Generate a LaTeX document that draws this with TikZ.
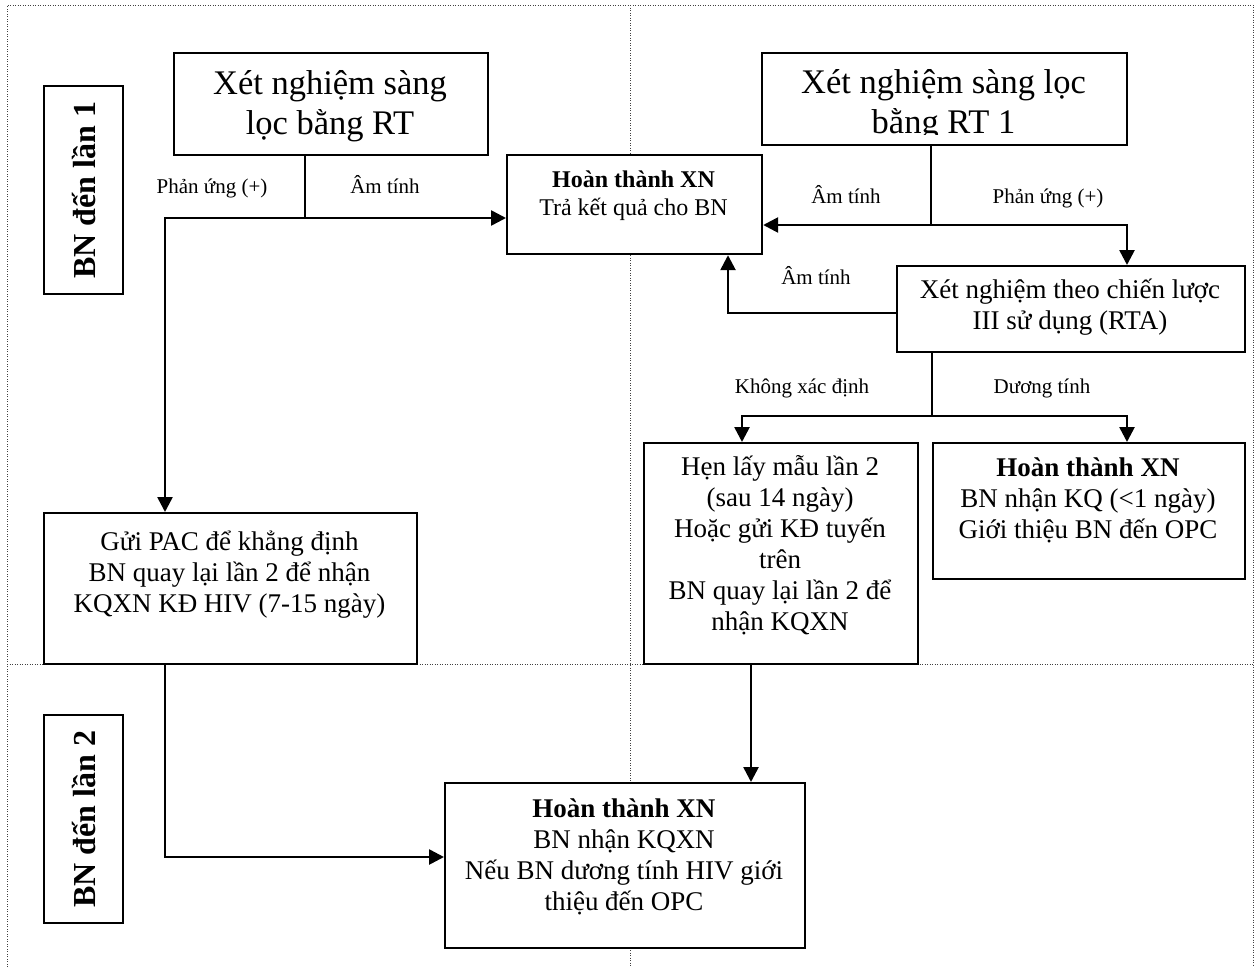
\documentclass[tikz,border=0pt]{standalone}
\usepackage{fontspec}
\setmainfont{Liberation Serif}
\usetikzlibrary{arrows.meta}
\newcommand\firstline{\rule{0pt}{1.05em}}
\begin{document}
\begin{tikzpicture}[x=1pt,y=-1pt,
  box/.style={draw, line width=2.2pt, fill=white, inner sep=0pt, anchor=north west},
  txt/.style={inner sep=0pt, align=center, anchor=north},
  title/.style={txt, font=\fontsize{34.5pt}{40pt}\selectfont},
  body/.style={txt, font=\fontsize{27pt}{31pt}\selectfont},
  smallbody/.style={txt, font=\fontsize{24pt}{28pt}\selectfont},
  lbl/.style={inner sep=0pt, anchor=base, font=\fontsize{21pt}{24pt}\selectfont},
  side/.style={inner sep=0pt, rotate=90, font=\fontsize{32pt}{36pt}\selectfont\bfseries},
  grid/.style={draw=black!75, line width=1pt, dash pattern=on 1pt off 1.5pt},
  link/.style={line width=1.7pt, line join=miter},
  arr/.style={line width=2.6pt, line join=miter, -{Triangle[length=15pt,width=15pt]}}]
\useasboundingbox (0,0) rectangle (1257,967);

% dotted frame and lane separators
\draw[grid] (7,967) -- (7,5) -- (1253,5) -- (1253,967);
\draw[grid] (630,5) -- (630,967);
\draw[grid] (7,664) -- (1253,664);

% boxes
\node[box, minimum width=79pt, minimum height=208pt] (side1) at (43,85) {};
\node[box, minimum width=79pt, minimum height=208pt] (side2) at (43,714) {};
\node[box, minimum width=314pt, minimum height=102pt] (tl) at (173,52) {};
\node[box, minimum width=365pt, minimum height=92pt] (tr) at (761,52) {};
\node[box, minimum width=255pt, minimum height=99pt] (done1) at (506,154) {};
\node[box, minimum width=348pt, minimum height=86pt] (rta) at (896,265) {};
\node[box, minimum width=274pt, minimum height=221pt] (hen) at (643,442) {};
\node[box, minimum width=312pt, minimum height=136pt] (done2) at (932,442) {};
\node[box, minimum width=373pt, minimum height=151pt] (pac) at (43,512) {};
\node[box, minimum width=360pt, minimum height=165pt] (final) at (444,782) {};

% lane titles
\node[side] (side1t) at (side1.center) {BN đến lần 1};
\node[side] (side2t) at (side2.center) {BN đến lần 2};

% box texts
\node[title] (tlt) at (330,{94-36.2}) {\firstline Xét nghiệm sàng\\lọc bằng RT};
\begin{scope}
  \clip (761,52) rectangle (1126,134);
  \node[title] (trt) at (943.5,{93-36.2}) {\firstline Xét nghiệm sàng lọc\\bằng RT 1};
\end{scope}
\node[smallbody] (done1t) at (633.5,{187-25.2}) {\firstline\textbf{Hoàn thành XN}\\Trả kết quả cho BN};
\node[body] (rtat) at (1070,{298-28.35}) {\firstline Xét nghiệm theo chiến lược\\III sử dụng (RTA)};
\node[body] (hent) at (780,{475-28.35}) {\firstline Hẹn lấy mẫu lần 2\\(sau 14 ngày)\\Hoặc gửi KĐ tuyến\\trên\\BN quay lại lần 2 để\\nhận KQXN};
\node[body] (done2t) at (1088,{476-28.35}) {\firstline\textbf{Hoàn thành XN}\\BN nhận KQ (<1 ngày)\\Giới thiệu BN đến OPC};
\node[body] (pact) at (229.5,{550-28.35}) {\firstline Gửi PAC để khẳng định\\BN quay lại lần 2 để nhận\\KQXN KĐ HIV (7-15 ngày)};
\node[body] (finalt) at (624,{817-28.35}) {\firstline\textbf{Hoàn thành XN}\\BN nhận KQXN\\Nếu BN dương tính HIV giới\\thiệu đến OPC};

% branch points
\coordinate (j1) at (305,218);
\coordinate (k1) at (165,218);
\coordinate (j2) at (931,225);
\coordinate (k2) at (1127,225);
\coordinate (k3) at (728,313);
\coordinate (j4) at (932,416);
\coordinate (k4a) at (742,416);
\coordinate (k4b) at (1127,416);
\coordinate (k5) at (751,720);
\coordinate (k6) at (165,857);

% connectors
\draw[link] (tl.south -| j1) -- (j1);
\draw[arr] (j1) -- (done1.west |- j1);
\draw[arr] (j1) -- (k1) -- (k1 |- pac.north);
\draw[link] (tr.south -| j2) -- (j2);
\draw[arr] (j2) -- (done1.east |- j2);
\draw[arr] (j2) -- (k2) -- (k2 |- rta.north);
\draw[arr] (rta.west |- k3) -- (k3) -- (k3 |- done1.south);
\draw[link] (rta.south -| j4) -- (j4);
\draw[arr] (j4) -- (k4a) -- (k4a |- hen.north);
\draw[arr] (j4) -- (k4b) -- (k4b |- done2.north);
\draw[arr] (k5 |- hen.south) -- (k5 |- final.north);
\draw[arr] (pac.south -| k6) -- (k6) -- (final.west |- k6);

% connector labels
\node[lbl] (l1) at (212,193) {Phản ứng (+)};
\node[lbl] (l2) at (385,193) {Âm tính};
\node[lbl] (l3) at (846,203) {Âm tính};
\node[lbl] (l4) at (1048,203) {Phản ứng (+)};
\node[lbl] (l5) at (816,284) {Âm tính};
\node[lbl] (l6) at (802,393) {Không xác định};
\node[lbl] (l7) at (1042,393) {Dương tính};
\end{tikzpicture}
\end{document}
